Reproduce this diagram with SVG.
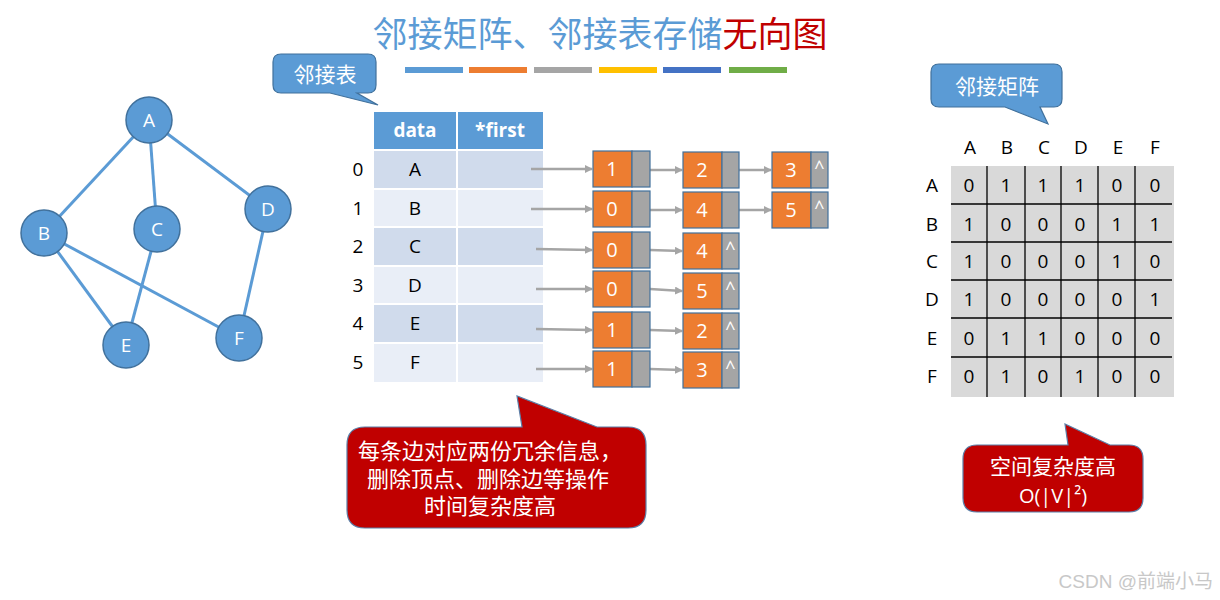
<svg xmlns="http://www.w3.org/2000/svg" width="1220" height="600" viewBox="0 0 1220 600">
<defs>
<style>
.cjk{font-family:"Liberation Sans","Noto Sans CJK SC",sans-serif}
.lat{font-family:"Open Sans","Noto Sans",sans-serif}
.gn circle{fill:#5b9bd5;stroke:#41719c;stroke-width:1.5}
.gn text{fill:#fff;font-size:19px;text-anchor:middle;font-family:"Open Sans",sans-serif}
.edge{stroke:#5b9bd5;stroke-width:3}
.ptr{stroke:#a5a5a5;stroke-width:2.5;fill:none;marker-end:url(#ah)}
.or{fill:#ed7d31;stroke:#41719c;stroke-width:1.2}
.gy{fill:#a5a5a5;stroke:#41719c;stroke-width:1.2}
.nv{fill:#fff;font-size:20px;text-anchor:middle;font-family:"Open Sans",sans-serif}
.nl{fill:#fff;font-size:18px;text-anchor:middle;font-family:"Open Sans",sans-serif}
.tk{fill:#000;font-size:19px;text-anchor:middle;font-family:"Open Sans",sans-serif}
.bub{fill:#5b9bd5;stroke:#41719c;stroke-width:1.2}
.red{fill:#c00000;stroke:#5b7fa8;stroke-width:1.2}
.wt{fill:#fff;text-anchor:middle}
.ml{stroke:#000;stroke-width:1.3}
</style>
<marker id="ah" markerWidth="8" markerHeight="8" refX="7" refY="4" orient="auto" markerUnits="userSpaceOnUse">
<path d="M0,0 L8,4 L0,8 z" fill="#a5a5a5"/>
</marker>
</defs>
<rect width="1220" height="600" fill="#fff"/>

<g id="title">
<text x="600" y="47" class="cjk" font-size="35" text-anchor="middle"><tspan fill="#5b9bd5">邻接矩阵、邻接表存储</tspan><tspan fill="#c00000">无向图</tspan></text>
<rect x="405" y="67" width="58" height="6" fill="#5b9bd5"/>
<rect x="469" y="67" width="58" height="6" fill="#ed7d31"/>
<rect x="534" y="67" width="58" height="6" fill="#a5a5a5"/>
<rect x="599" y="67" width="58" height="6" fill="#ffc000"/>
<rect x="663" y="67" width="58" height="6" fill="#4472c4"/>
<rect x="729" y="67" width="58" height="6" fill="#70ad47"/>
</g>

<g id="graph-edges">
<line class="edge" x1="149" y1="120" x2="44" y2="233"/>
<line class="edge" x1="149" y1="120" x2="157" y2="229"/>
<line class="edge" x1="149" y1="120" x2="268" y2="209"/>
<line class="edge" x1="44" y1="233" x2="126" y2="345"/>
<line class="edge" x1="44" y1="233" x2="239" y2="338"/>
<line class="edge" x1="157" y1="229" x2="126" y2="345"/>
<line class="edge" x1="268" y1="209" x2="239" y2="338"/>
</g>
<g id="node-A" class="gn"><circle cx="149" cy="120" r="23"/><text x="149" y="127">A</text></g>
<g id="node-B" class="gn"><circle cx="44" cy="233" r="23"/><text x="44" y="240">B</text></g>
<g id="node-C" class="gn"><circle cx="157" cy="229" r="23"/><text x="157" y="236">C</text></g>
<g id="node-D" class="gn"><circle cx="268" cy="209" r="23"/><text x="268" y="216">D</text></g>
<g id="node-E" class="gn"><circle cx="126" cy="345" r="23"/><text x="126" y="352">E</text></g>
<g id="node-F" class="gn"><circle cx="239" cy="338" r="23"/><text x="239" y="345">F</text></g>

<g id="callout-list">
<path class="bub" d="M281,54 H368 Q376,54 376,62 V85 Q376,93 368,93 H357 L378,105 L330,93 H281 Q273,93 273,85 V62 Q273,54 281,54 Z"/>
<text x="325" y="82" class="cjk wt" font-size="21">邻接表</text>
</g>

<g id="table">
<rect x="374" y="112" width="82" height="37" fill="#5b9bd5"/>
<rect x="458" y="112" width="85" height="37" fill="#5b9bd5"/>
<text x="415" y="137" class="lat" font-size="19" font-weight="bold" fill="#fff" text-anchor="middle">data</text>
<text x="500" y="137" class="lat" font-size="19" font-weight="bold" fill="#fff" text-anchor="middle">*first</text>
<g fill="#d0dbec">
<rect x="374" y="151" width="82" height="37"/><rect x="458" y="151" width="85" height="37"/>
<rect x="374" y="228" width="82" height="37"/><rect x="458" y="228" width="85" height="37"/>
<rect x="374" y="305" width="82" height="37"/><rect x="458" y="305" width="85" height="37"/>
</g>
<g fill="#e9eef7">
<rect x="374" y="190" width="82" height="36"/><rect x="458" y="190" width="85" height="36"/>
<rect x="374" y="267" width="82" height="36"/><rect x="458" y="267" width="85" height="36"/>
<rect x="374" y="344" width="82" height="38"/><rect x="458" y="344" width="85" height="38"/>
</g>
<g class="tk">
<text x="415" y="176">A</text><text x="415" y="215">B</text><text x="415" y="253">C</text>
<text x="415" y="292">D</text><text x="415" y="330">E</text><text x="415" y="369">F</text>
<text x="358" y="176">0</text><text x="358" y="215">1</text><text x="358" y="253">2</text>
<text x="358" y="292">3</text><text x="358" y="330">4</text><text x="358" y="369">5</text>
</g>
</g>

<g id="connectors">
<line class="ptr" x1="531" y1="169" x2="592" y2="169"/>
<line class="ptr" x1="531" y1="209" x2="592" y2="209"/>
<line class="ptr" x1="536" y1="249" x2="592" y2="250"/>
<line class="ptr" x1="536" y1="289" x2="592" y2="289"/>
<line class="ptr" x1="536" y1="329" x2="592" y2="330"/>
<line class="ptr" x1="536" y1="369" x2="592" y2="369"/>
<line class="ptr" x1="650" y1="170" x2="682" y2="170"/>
<line class="ptr" x1="650" y1="210" x2="682" y2="210"/>
<line class="ptr" x1="650" y1="250" x2="682" y2="251"/>
<line class="ptr" x1="650" y1="289" x2="682" y2="291"/>
<line class="ptr" x1="650" y1="330" x2="682" y2="331"/>
<line class="ptr" x1="650" y1="369" x2="682" y2="370"/>
<line class="ptr" x1="739" y1="170" x2="771" y2="170"/>
<line class="ptr" x1="739" y1="210" x2="771" y2="210"/>
</g>

<g id="list-nodes">
<g id="n0-1"><rect class="or" x="593" y="151" width="39" height="36"/><rect class="gy" x="632" y="151" width="18" height="36"/><text class="nv" x="612" y="176">1</text></g>
<g id="n0-2"><rect class="or" x="683" y="152" width="39" height="36"/><rect class="gy" x="722" y="152" width="17" height="36"/><text class="nv" x="702" y="177">2</text></g>
<g id="n0-3"><rect class="or" x="772" y="152" width="39" height="36"/><rect class="gy" x="811" y="152" width="17" height="36"/><text class="nv" x="791" y="177">3</text><text class="nl" x="819.5" y="174">^</text></g>
<g id="n1-1"><rect class="or" x="593" y="191" width="39" height="36"/><rect class="gy" x="632" y="191" width="18" height="36"/><text class="nv" x="612" y="216">0</text></g>
<g id="n1-2"><rect class="or" x="683" y="192" width="39" height="36"/><rect class="gy" x="722" y="192" width="17" height="36"/><text class="nv" x="702" y="217">4</text></g>
<g id="n1-3"><rect class="or" x="772" y="192" width="39" height="36"/><rect class="gy" x="811" y="192" width="17" height="36"/><text class="nv" x="791" y="217">5</text><text class="nl" x="819.5" y="214">^</text></g>
<g id="n2-1"><rect class="or" x="593" y="232" width="39" height="36"/><rect class="gy" x="632" y="232" width="18" height="36"/><text class="nv" x="612" y="257">0</text></g>
<g id="n2-2"><rect class="or" x="683" y="233" width="39" height="36"/><rect class="gy" x="722" y="233" width="17" height="36"/><text class="nv" x="702" y="258">4</text><text class="nl" x="730.5" y="255">^</text></g>
<g id="n3-1"><rect class="or" x="593" y="271" width="39" height="36"/><rect class="gy" x="632" y="271" width="18" height="36"/><text class="nv" x="612" y="296">0</text></g>
<g id="n3-2"><rect class="or" x="683" y="273" width="39" height="36"/><rect class="gy" x="722" y="273" width="17" height="36"/><text class="nv" x="702" y="298">5</text><text class="nl" x="730.5" y="295">^</text></g>
<g id="n4-1"><rect class="or" x="593" y="312" width="39" height="36"/><rect class="gy" x="632" y="312" width="18" height="36"/><text class="nv" x="612" y="337">1</text></g>
<g id="n4-2"><rect class="or" x="683" y="313" width="39" height="36"/><rect class="gy" x="722" y="313" width="17" height="36"/><text class="nv" x="702" y="338">2</text><text class="nl" x="730.5" y="335">^</text></g>
<g id="n5-1"><rect class="or" x="593" y="351" width="39" height="36"/><rect class="gy" x="632" y="351" width="18" height="36"/><text class="nv" x="612" y="376">1</text></g>
<g id="n5-2"><rect class="or" x="683" y="352" width="39" height="36"/><rect class="gy" x="722" y="352" width="17" height="36"/><text class="nv" x="702" y="377">3</text><text class="nl" x="730.5" y="374">^</text></g>
</g>

<g id="callout-list-note">
<path class="red" d="M365,427 H522 L517,396 L597,427 H628 Q646,427 646,445 V510 Q646,528 628,528 H365 Q347,528 347,510 V445 Q347,427 365,427 Z"/>
<g class="cjk wt" font-size="22">
<text x="490" y="459">每条边对应两份冗余信息，</text>
<text x="488" y="487">删除顶点、删除边等操作</text>
<text x="490" y="514">时间复杂度高</text>
</g>
</g>

<g id="callout-matrix">
<path class="bub" d="M939,64 H1054 Q1062,64 1062,72 V99 Q1062,107 1054,107 H1040 L1048,124 L1005,107 H939 Q931,107 931,99 V72 Q931,64 939,64 Z"/>
<text x="997" y="94" class="cjk wt" font-size="21">邻接矩阵</text>
</g>

<g id="matrix">
<rect x="951" y="166" width="223" height="231" fill="#d9d9d9"/>
<g class="ml">
<line x1="987" y1="166" x2="987" y2="397"/><line x1="1025" y1="166" x2="1025" y2="397"/>
<line x1="1061" y1="166" x2="1061" y2="397"/><line x1="1098" y1="166" x2="1098" y2="397"/>
<line x1="1135" y1="166" x2="1135" y2="397"/>
<line x1="951" y1="204" x2="1172" y2="204"/><line x1="951" y1="242" x2="1172" y2="242"/>
<line x1="951" y1="280" x2="1172" y2="280"/><line x1="951" y1="318" x2="1172" y2="318"/>
<line x1="951" y1="357" x2="1172" y2="357"/>
</g>
<g class="tk">
<text x="970" y="154">A</text><text x="1007" y="154">B</text><text x="1044" y="154">C</text><text x="1081" y="154">D</text><text x="1118" y="154">E</text><text x="1155" y="154">F</text>
<text x="932" y="192">A</text><text x="932" y="231">B</text><text x="932" y="268">C</text><text x="932" y="306">D</text><text x="932" y="345">E</text><text x="932" y="383">F</text>
<text x="969" y="192">0</text><text x="1006" y="192">1</text><text x="1043" y="192">1</text><text x="1080" y="192">1</text><text x="1117" y="192">0</text><text x="1155" y="192">0</text>
<text x="969" y="231">1</text><text x="1006" y="231">0</text><text x="1043" y="231">0</text><text x="1080" y="231">0</text><text x="1117" y="231">1</text><text x="1155" y="231">1</text>
<text x="969" y="268">1</text><text x="1006" y="268">0</text><text x="1043" y="268">0</text><text x="1080" y="268">0</text><text x="1117" y="268">1</text><text x="1155" y="268">0</text>
<text x="969" y="306">1</text><text x="1006" y="306">0</text><text x="1043" y="306">0</text><text x="1080" y="306">0</text><text x="1117" y="306">0</text><text x="1155" y="306">1</text>
<text x="969" y="345">0</text><text x="1006" y="345">1</text><text x="1043" y="345">1</text><text x="1080" y="345">0</text><text x="1117" y="345">0</text><text x="1155" y="345">0</text>
<text x="969" y="383">0</text><text x="1006" y="383">1</text><text x="1043" y="383">0</text><text x="1080" y="383">1</text><text x="1117" y="383">0</text><text x="1155" y="383">0</text>
</g>
</g>

<g id="callout-matrix-note">
<path class="red" d="M977,445 H1068 L1065,424 L1110,445 H1129 Q1143,445 1143,459 V498 Q1143,512 1129,512 H977 Q963,512 963,498 V459 Q963,445 977,445 Z"/>
<text x="1053" y="474" class="cjk wt" font-size="21">空间复杂度高</text>
<text x="1053" y="503" class="lat wt" font-size="20">O(|V|²)</text>
</g>

<text id="watermark" x="1213" y="588" text-anchor="end" font-size="19" fill="#c8c8c8" font-family="Liberation Sans,'Noto Sans CJK SC',sans-serif">CSDN @前端小马</text>
</svg>
